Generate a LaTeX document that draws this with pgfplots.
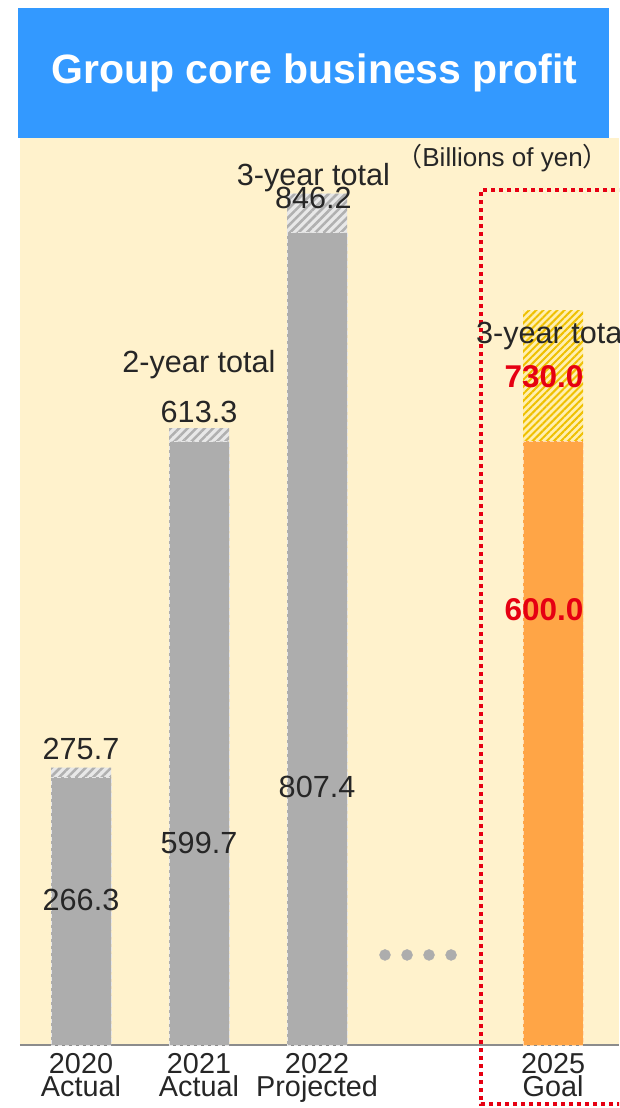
\documentclass[border=0pt]{standalone}
\usepackage{pgfplots}
\pgfplotsset{compat=1.18}
\usepackage{fontspec}
\setmainfont{Liberation Sans}
\newfontfamily\cjk{Noto Sans CJK JP}
\usetikzlibrary{patterns.meta}
\definecolor{banner}{HTML}{3399FF}
\definecolor{bgy}{HTML}{FFF2CC}
\definecolor{bargray}{HTML}{ADADAD}
\definecolor{hatchbg}{HTML}{E8E8E8}
\definecolor{hatchln}{HTML}{B0B0B0}
\definecolor{goalor}{HTML}{FFA546}
\definecolor{goldbg}{HTML}{FFEFB0}
\definecolor{goldln}{HTML}{EFC000}
\definecolor{redlab}{HTML}{E60012}
\definecolor{txt}{HTML}{262626}
\begin{document}
\begin{tikzpicture}
\useasboundingbox (0,0) rectangle (619pt,1108pt);
\clip (0,0) rectangle (619pt,1108pt);
\fill[banner] (18pt,970pt) rectangle (609pt,1100pt);
\node[text=white, font=\fontsize{41}{49}\selectfont\bfseries] at (314.5pt,1035pt) {Group core business profit};
\begin{axis}[
  at={(20pt,63pt)}, anchor=south west,
  scale only axis, width=599pt, height=907pt,
  xmin=-0.517, xmax=4.559, ymin=0, ymax=901.6,
  axis background/.style={fill=bgy},
  axis x line*=bottom, axis y line=none,
  x axis line style={draw=gray!90, line width=1.5pt, -},
  xtick={0,1,2,4},
  xticklabels={2020\\Actual,2021\\Actual,2022\\Projected,2025\\Goal},
  xticklabel style={align=center, font=\fontsize{28.8}{23}\selectfont, text=txt, inner sep=0pt, yshift=-8pt},
  major tick length=0pt,
  clip=false,
]
% totals (hatched part)
\addplot[ybar, bar width=60pt, bar shift=0pt, fill=hatchbg, draw=none,
  postaction={pattern={Lines[angle=45,distance=6pt,line width=2.5pt]}, pattern color=hatchln}]
  coordinates {(0,275.7) (1,613.3) (2,846.2)};
\addplot[ybar, bar width=60pt, bar shift=0pt, fill=goldbg, draw=none,
  postaction={pattern={Lines[angle=45,distance=5pt,line width=2pt]}, pattern color=goldln}]
  coordinates {(4,730.0)};
% base parts
\addplot[ybar, bar width=60pt, bar shift=0pt, fill=bargray, draw=white!70!bargray, line width=0.8pt, dash pattern=on 4pt off 3pt]
  coordinates {(0,266.3) (1,599.7) (2,807.4)};
\addplot[ybar, bar width=60pt, bar shift=0pt, fill=goalor, draw=white!60!goalor, line width=0.8pt, dash pattern=on 4pt off 3pt]
  coordinates {(4,600.0)};
% dots
\addplot[only marks, mark=*, mark size=5.5pt, color=bargray]
  coordinates {(2.576,89.5) (2.763,89.5) (2.949,89.5) (3.136,89.5)};
% red dotted frame
\draw[redlab, line width=3.5pt, dash pattern=on 4pt off 4pt]
  (axis cs:5,850) -- (axis cs:3.39,850) -- (axis cs:3.39,-58.6) -- (axis cs:5,-58.6);
% labels
\begin{scope}[every node/.style={font=\fontsize{30.6}{36}\selectfont, text=txt, anchor=base, inner sep=0pt}]
\node at (axis cs:0,283.6) {275.7};
\node at (axis cs:0,133.5) {266.3};
\node at (axis cs:1,668) {2-year total};
\node at (axis cs:1,618.6) {613.3};
\node at (axis cs:1,190.2) {599.7};
\node at (axis cs:1.97,854.2) {3-year total};
\node at (axis cs:1.97,831.3) {846.2};
\node at (axis cs:2,245.8) {807.4};
\node[anchor=base west] at (axis cs:3.347,697.1) {3-year total};
\node[text=redlab, font=\fontsize{31.5}{36}\selectfont\bfseries] at (axis cs:3.924,653.4) {730.0};
\node[text=redlab, font=\fontsize{31.5}{36}\selectfont\bfseries] at (axis cs:3.924,421.6) {600.0};
\end{scope}
\end{axis}
\node[anchor=east, font=\fontsize{26}{30}\selectfont, text=txt, inner sep=0pt] at (609pt,950pt) {{\cjk （}Billions of yen{\cjk ）}};
\end{tikzpicture}
\end{document}
